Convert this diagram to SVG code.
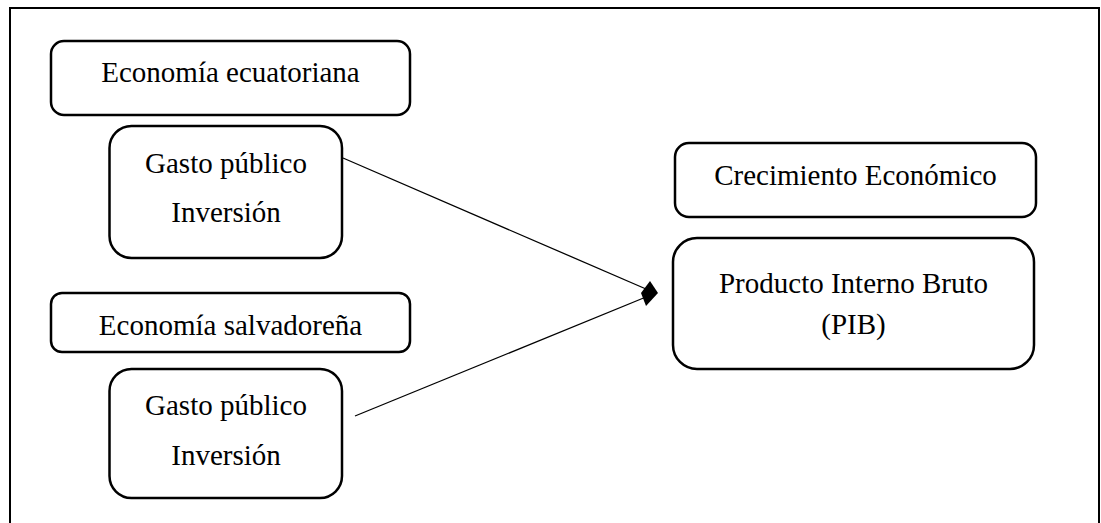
<svg xmlns="http://www.w3.org/2000/svg" width="1101" height="523" viewBox="0 0 1101 523">
<style>
.box{fill:#fff;stroke:#000;stroke-width:2.5}
.t{font-family:"Liberation Serif","Times New Roman",serif;font-size:29px;fill:#000;text-anchor:middle}
.c{stroke:#000;stroke-width:1.3;fill:none}
</style>
<rect x="0" y="0" width="1101" height="523" fill="#fff"/>
<path d="M10,530 L10,8 L1099,8 L1099,530" fill="none" stroke="#000" stroke-width="2"/>
<g id="n-ecuador">
<rect class="box" x="51" y="41" width="359" height="74" rx="13"/>
<text class="t" x="230.5" y="82">Economía ecuatoriana</text>
</g>
<g id="n-gasto1">
<rect class="box" x="109.5" y="126" width="232.5" height="132" rx="22"/>
<text class="t" x="226" y="173">Gasto público</text>
<text class="t" x="226" y="222">Inversión</text>
</g>
<g id="n-salvador">
<rect class="box" x="51" y="293" width="359" height="59" rx="11"/>
<text class="t" x="230.5" y="335">Economía salvadoreña</text>
</g>
<g id="n-gasto2">
<rect class="box" x="109.5" y="369" width="232.5" height="129" rx="22"/>
<text class="t" x="226" y="415">Gasto público</text>
<text class="t" x="226" y="465">Inversión</text>
</g>
<g id="n-crecimiento">
<rect class="box" x="675" y="143" width="361" height="74" rx="14"/>
<text class="t" x="855.5" y="185">Crecimiento Económico</text>
</g>
<g id="n-pib">
<rect class="box" x="673" y="238" width="361" height="131" rx="24"/>
<text class="t" x="853.5" y="293">Producto Interno Bruto</text>
<text class="t" x="853.5" y="334">(PIB)</text>
</g>
<g id="connectors">
<line class="c" x1="343" y1="158" x2="646" y2="289"/>
<line class="c" x1="355" y1="416" x2="646" y2="297"/>
<polygon points="650,281 658,293 646,306 641,293" fill="#000"/>
</g>
</svg>
